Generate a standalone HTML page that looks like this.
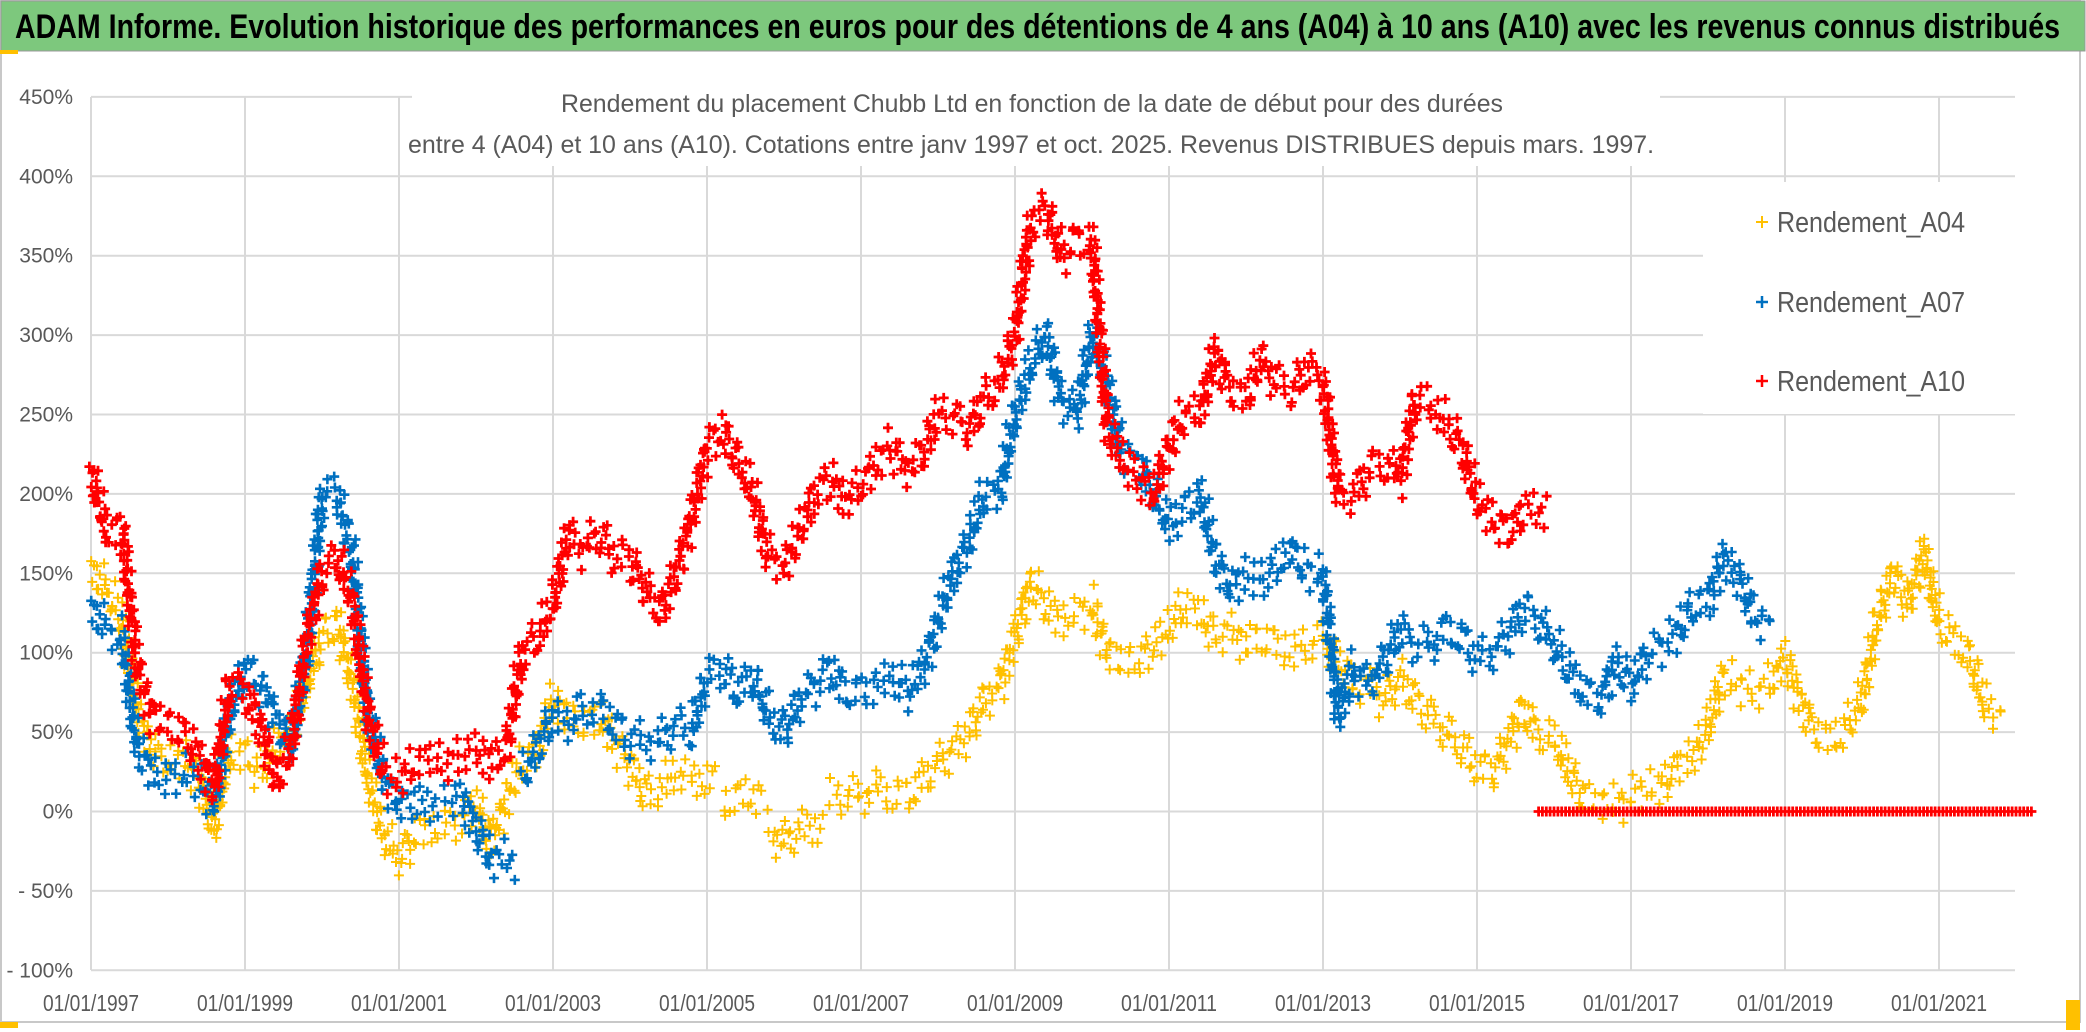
<!DOCTYPE html>
<html><head><meta charset="utf-8"><style>
html,body{margin:0;padding:0;background:#fff;}
svg{display:block;font-family:"Liberation Sans Narrow","Liberation Sans",sans-serif;}
</style></head><body>
<svg id="chart" width="2086" height="1032" viewBox="0 0 2086 1032" xmlns="http://www.w3.org/2000/svg">
<rect x="0" y="0" width="2086" height="1032" fill="#fff"/>
<rect x="1" y="1" width="2079" height="1021" fill="none" stroke="#c8c8c8" stroke-width="2"/>
<rect x="1" y="1" width="2084" height="50" fill="#7DC87D" stroke="#999" stroke-width="1"/>
<rect x="0" y="50" width="18" height="4" fill="#FFC000"/>
<rect x="2066" y="1000" width="14" height="30" fill="#FFC000"/>
<rect x="0" y="1022" width="18" height="6" fill="#FFC000"/>
<text x="15" y="38" font-size="34" font-weight="bold" fill="#000" textLength="2045" lengthAdjust="spacingAndGlyphs">ADAM Informe. Evolution historique des performances en euros pour des détentions de 4 ans (A04) à 10 ans (A10) avec les revenus connus distribués</text>
<g id="grid"></g>
<g id="yaxis"></g>
<g id="xaxis"></g>
<g id="series"></g>
<rect x="412" y="68" width="1248" height="98" fill="#fff"/>
<text x="561" y="112" font-size="25" fill="#595959" textLength="942" lengthAdjust="spacingAndGlyphs">Rendement du placement Chubb Ltd en fonction de la date de début pour des durées</text>
<text x="408" y="153" font-size="25" fill="#595959" textLength="1246" lengthAdjust="spacingAndGlyphs">entre 4 (A04) et 10 ans (A10). Cotations entre janv 1997 et oct. 2025. Revenus DISTRIBUES depuis mars. 1997.</text>
<g>
<rect x="1703" y="182" width="312" height="232" fill="#fff"/>
<g><path d="M1756 222h12M1762 216v12" stroke="#FFC000" stroke-width="2"/><text x="1777" y="232" font-size="29" fill="#595959" textLength="188" lengthAdjust="spacingAndGlyphs">Rendement_A04</text></g>
<g><path d="M1756 302h12M1762 296v12" stroke="#0070C0" stroke-width="2.5"/><text x="1777" y="312" font-size="29" fill="#595959" textLength="188" lengthAdjust="spacingAndGlyphs">Rendement_A07</text></g>
<g><path d="M1756 381h12M1762 375v12" stroke="#FF0000" stroke-width="2.5"/><text x="1777" y="391" font-size="29" fill="#595959" textLength="188" lengthAdjust="spacingAndGlyphs">Rendement_A10</text></g>
</g>
</svg>
<script>
const startYear = 1997.0;
const stepYear = 0.2;
const yTicks = [450,400,350,300,250,200,150,100,50,0,-50,-100];
const yTickLabels = ["450%","400%","350%","300%","250%","200%","150%","100%","50%","0%","- 50%","- 100%"];
const xTickYears = [1997,1999,2001,2003,2005,2007,2009,2011,2013,2015,2017,2019,2021];
const xTickLabels = ["01/01/1997","01/01/1999","01/01/2001","01/01/2003","01/01/2005","01/01/2007","01/01/2009","01/01/2011","01/01/2013","01/01/2015","01/01/2017","01/01/2019","01/01/2021"];
const a04 = [155,140,120,60,40,30,35,20,-10,40,35,25,40,50,80,110,120,80,20,-15,-30,-15,-10,-10,-5,5,-20,10,30,40,70,60,55,60,45,30,10,15,25,20,0,5,10,0,-10,-20,-10,0,10,10,10,15,10,10,20,30,40,50,70,80,110,145,130,120,125,130,100,95,95,105,115,130,125,110,115,105,110,105,100,105,110,95,80,80,70,85,70,60,50,40,28,24,45,65,48,45,25,7,7,4,10,15,15,30,34,53,86,80,75,80,97,70,50,45,52,70,120,150,130,165,118,108,97,65,63];
const a07 = [130,115,110,40,25,20,25,20,5,60,90,80,60,40,100,200,200,160,60,20,5,5,0,5,10,-10,-30,0,20,40,60,55,65,65,55,45,45,45,55,50,85,90,75,85,60,50,70,80,90,75,75,80,85,75,90,120,150,170,200,200,250,280,300,260,250,300,270,220,220,200,180,190,200,160,140,150,145,155,165,150,150,60,90,80,95,115,105,105,115,110,97,100,112,128,120,105,88,75,70,95,80,98,105,112,130,132,160,148,122,120];
const a10 = [215,175,180,90,60,55,50,35,15,80,75,55,20,40,110,150,160,130,60,25,20,30,35,30,35,40,30,40,100,110,130,175,165,175,160,160,140,125,150,185,230,240,220,200,160,155,175,200,210,195,205,220,230,215,225,250,250,240,260,270,300,370,380,350,360,360,240,220,210,200,230,250,250,290,265,260,285,270,265,280,270,200,200,215,220,210,260,255,245,230,195,185,175,190,0,0,0,0,0,0,0,0,0,0,0,0,0,0,0,0,0,0,0,0,0,0,0,0,0,0,0,0,0,0,0,0,0];

const NS="http://www.w3.org/2000/svg";
const X0=91, PXY=77, Y0=811.5, PXP=79.4/50;
const PL=91, PR=2015, PT=97, PB=970;
function xs(yr){return X0+(yr-1997)*PXY;}
function ys(v){return Y0-v*PXP;}
function mk(tag,attrs,parent){const e=document.createElementNS(NS,tag);for(const k in attrs)e.setAttribute(k,attrs[k]);parent.appendChild(e);return e;}

const grid=document.getElementById('grid');
yTicks.forEach((v,i)=>{
  const l=mk('line',{x1:PL,x2:PR,y1:ys(v),y2:ys(v),stroke:'#d9d9d9','stroke-width':2},grid);
  
  
  const t=mk('text',{x:73,y:ys(v)+7,'font-size':21,fill:'#595959','text-anchor':'end'},document.getElementById('yaxis'));
  t.textContent=yTickLabels[i];
  
  
});
xTickYears.forEach((yr,i)=>{
  const l=mk('line',{x1:xs(yr),x2:xs(yr),y1:PT,y2:PB,stroke:'#d9d9d9','stroke-width':2},grid);
  
  
  const t=mk('text',{x:xs(yr),y:1011,'font-size':23,fill:'#595959','text-anchor':'middle',textLength:96,lengthAdjust:'spacingAndGlyphs'},document.getElementById('xaxis'));
  t.textContent=xTickLabels[i];
  
  
});

const layer=document.getElementById('series');
function drawSeries(vals,color,name,sw){
  const g=mk('g',{},layer);
  
  
  let d='';
  const pts=vals.map((v,i)=>[xs(startYear+i*stepYear),ys(v),v]);
  function plus(x,y){d+=`M${(x-5).toFixed(1)} ${y.toFixed(1)}h10M${x.toFixed(1)} ${(y-5).toFixed(1)}v10`;}
  let k=0;
  for(let i=0;i<pts.length-1;i++){
    const [x1,y1,v1]=pts[i],[x2,y2,v2]=pts[i+1];
    const flat=(v1===0&&v2===0);
    if(!flat && (v1===0)!==(v2===0)){
      // series ends here (no connection between real values and padding zeros)
      if(v2===0){ // extend real values a bit past last point
        for(let j=0;j<10;j++){const jit=Math.sin(k*2.39)*15+Math.sin(k*0.71)*6;plus(x1+j*2.6,y1+jit);k++;}
      }
      continue;
    }
    const len=Math.hypot(x2-x1,y2-y1);
    const n=Math.max(2,Math.round(len/(flat?4:2.8)));
    for(let j=0;j<n;j++){
      const t=j/n;
      const jit=flat?0:Math.sin(k*2.39)*15+Math.sin(k*0.71)*6;
      const jx=flat?0:Math.cos(k*1.7)*3;
      plus(x1+(x2-x1)*t+jx,y1+(y2-y1)*t+jit);
      k++;
    }
  }
  const last=pts[pts.length-1];plus(last[0],last[1]);
  const p=mk('path',{d:d,stroke:color,'stroke-width':sw,fill:'none'},g);
  
  
}
drawSeries(a04,'#FFC000','series-a04',2);
drawSeries(a07,'#0070C0','series-a07',2.6);
drawSeries(a10,'#FF0000','series-a10',2.8);
</script>
</body></html>
